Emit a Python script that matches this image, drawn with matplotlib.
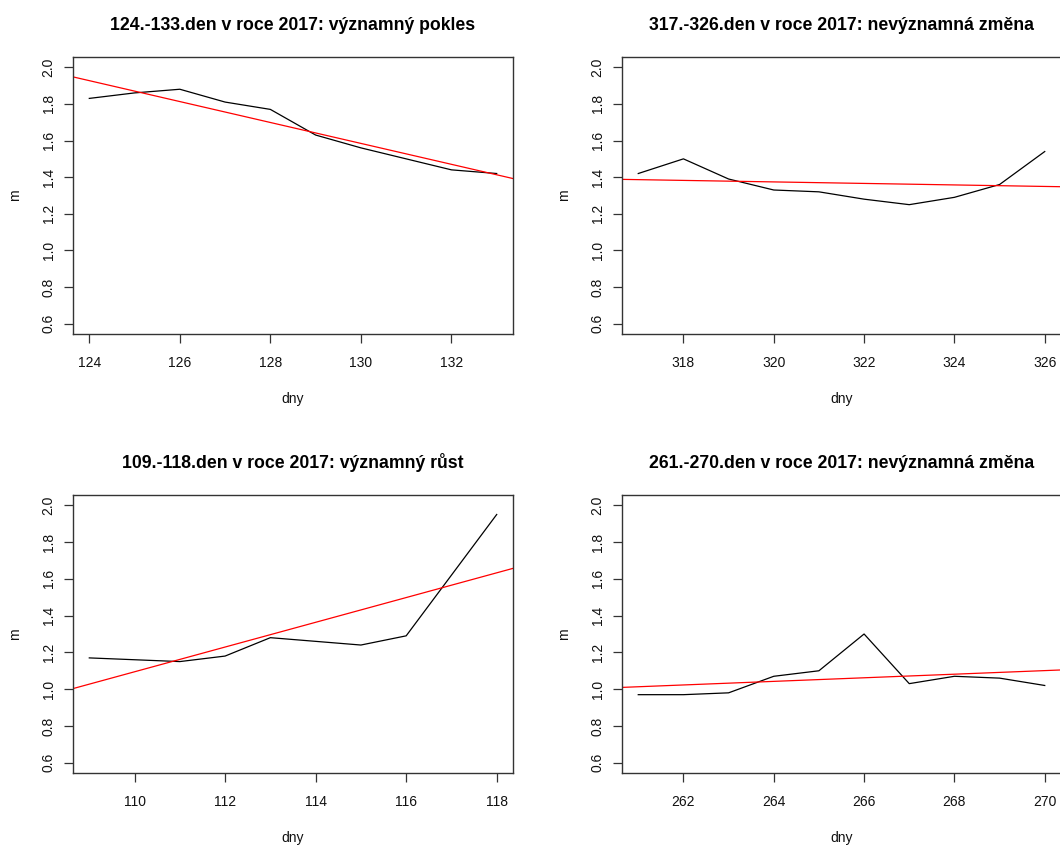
import numpy as np
import matplotlib.pyplot as plt

plt.rcParams['font.family'] = ['Liberation Sans', 'DejaVu Sans']

# water level (m) for 10-day windows in 2017
days_a = [124, 125, 126, 127, 128, 129, 130, 131, 132, 133]
level_a = [1.83, 1.86, 1.88, 1.81, 1.77, 1.63, 1.56, 1.50, 1.44, 1.42]

days_b = [317, 318, 319, 320, 321, 322, 323, 324, 325, 326]
level_b = [1.42, 1.50, 1.39, 1.33, 1.32, 1.28, 1.25, 1.29, 1.36, 1.54]

days_c = [109, 110, 111, 112, 113, 114, 115, 116, 117, 118]
level_c = [1.17, 1.16, 1.15, 1.18, 1.28, 1.26, 1.24, 1.29, 1.62, 1.95]

days_d = [261, 262, 263, 264, 265, 266, 267, 268, 269, 270]
level_d = [0.97, 0.97, 0.98, 1.07, 1.10, 1.30, 1.03, 1.07, 1.06, 1.02]

titles = ["124.-133.den v roce 2017: významný pokles",
          "317.-326.den v roce 2017: nevýznamná změna",
          "109.-118.den v roce 2017: významný růst",
          "261.-270.den v roce 2017: nevýznamná změna"]

yticks = [0.6, 0.8, 1.0, 1.2, 1.4, 1.6, 1.8, 2.0]

W, H = 1060, 846
fig = plt.figure(figsize=(W / 100, H / 100), dpi=100)

# axes boxes in pixels: left, top, right, bottom
boxes = [(73, 57, 513, 334), (622, 57, 1061, 334),
         (73, 495, 513, 773), (622, 495, 1061, 773)]
series = [(days_a, level_a), (days_b, level_b), (days_c, level_c), (days_d, level_d)]

for (l, t, r, b), (x, y), title in zip(boxes, series, titles):
    ax = fig.add_axes([l / W, 1 - b / H, (r - l) / W, (b - t) / H])
    x = np.array(x)
    y = np.array(y)
    ax.plot(x, y, color='black', lw=0.9)
    slope, icpt = np.polyfit(x, y, 1)
    ax.axline((x[0], icpt + slope * x[0]), slope=slope, color='red', lw=0.9)

    span = x.max() - x.min()
    ax.set_xlim(x.min() - 0.04 * span, x.max() + 0.04 * span)
    ax.set_ylim(0.6 - 0.056, 2.0 + 0.056)
    ax.set_xticks(np.arange(x.min() + (x.min() % 2), x.max() + 1, 2))
    ax.set_yticks(yticks)
    ax.set_yticklabels(["%.1f" % v for v in yticks], rotation=90, va='center')

    for s in ax.spines.values():
        s.set_color('#333333')
        s.set_linewidth(1.0)
    ax.tick_params(direction='out', length=6.5, width=0.9, color='#333333',
                   labelsize=10, labelcolor='#111111')
    ax.tick_params(axis='x', pad=9)
    ax.tick_params(axis='y', pad=6)
    ax.set_xlabel("dny", fontsize=10, labelpad=16, color='#111111')
    ax.set_ylabel("m", fontsize=10, labelpad=14, color='#111111')
    ax.set_title(title, fontsize=12.7, fontweight='bold', pad=19.5)

fig.savefig("out.png", dpi=100)
